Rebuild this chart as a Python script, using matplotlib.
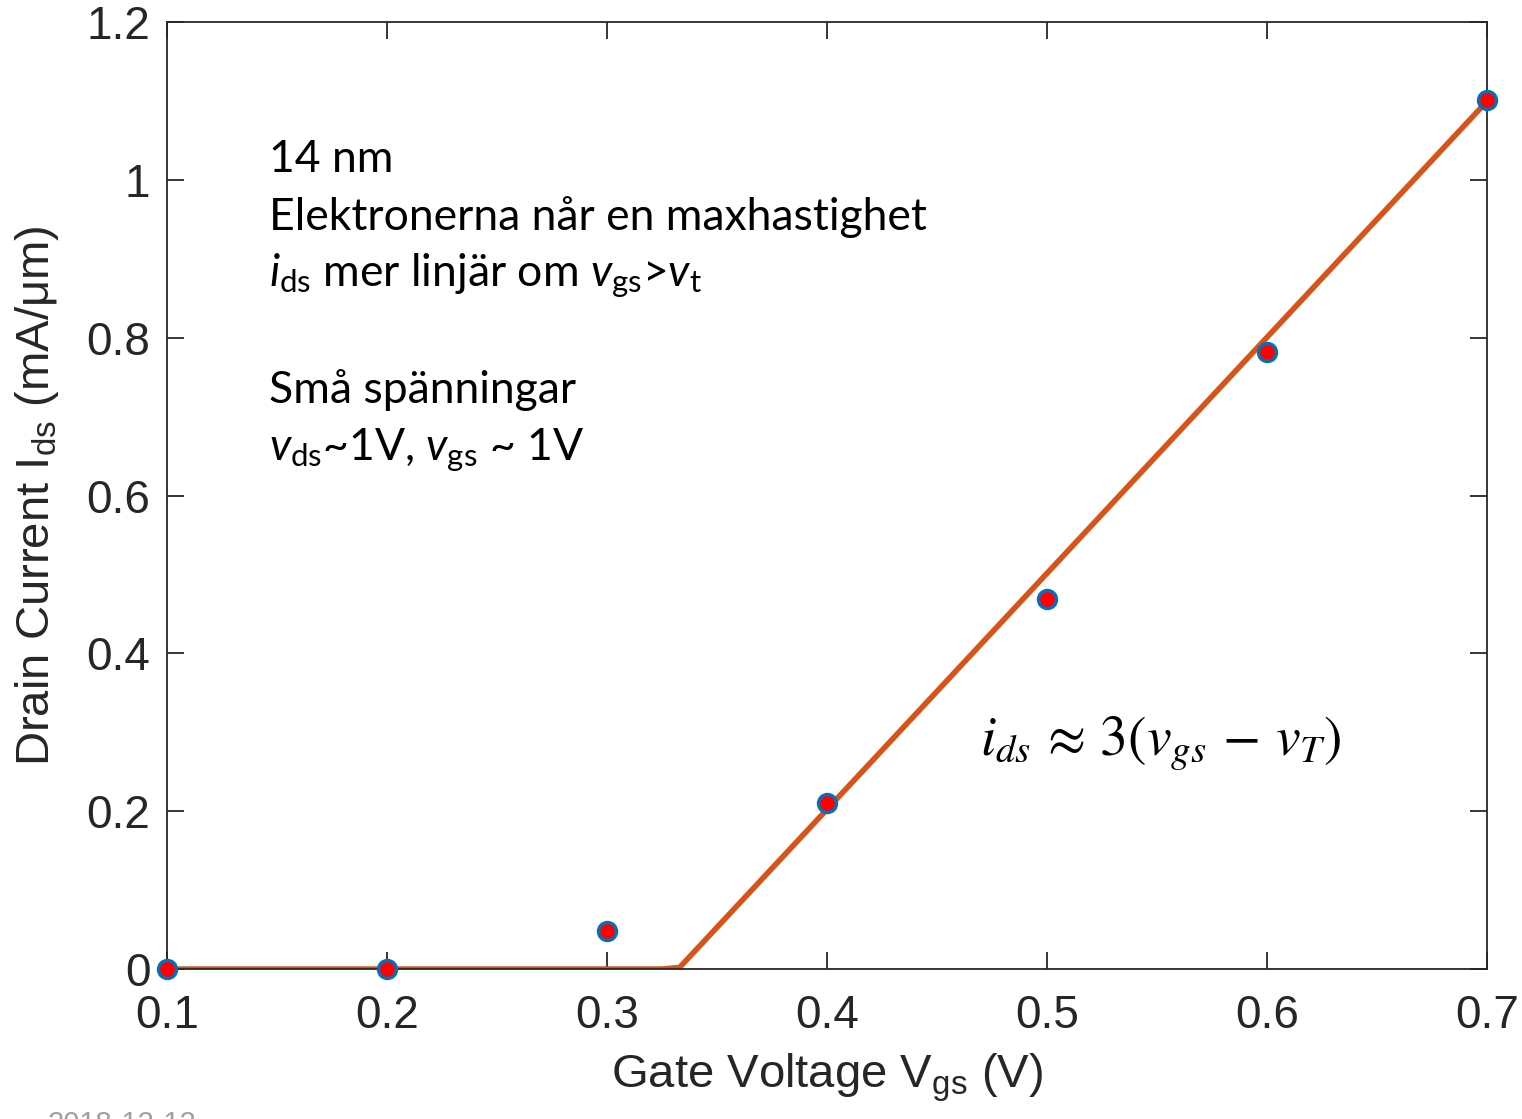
import matplotlib
matplotlib.use("Agg")
import matplotlib.pyplot as plt

# === Dados ===
vgs_pts = [0.1, 0.2, 0.3, 0.4, 0.5, 0.6, 0.7]
ids_pts = [0.0, 0.0, 0.048, 0.21, 0.469, 0.782, 1.101]

# modelo linear por partes: i_ds ~ 3(v_gs - v_T)
vgs_fit = [0.1, 0.325, 0.333, 0.7]
ids_fit = [0.0, 0.0, 0.002, 1.1]

x_ticks = [0.1, 0.2, 0.3, 0.4, 0.5, 0.6, 0.7]
y_ticks = [0, 0.2, 0.4, 0.6, 0.8, 1.0, 1.2]
y_ticklabels = ["0", "0.2", "0.4", "0.6", "0.8", "1", "1.2"]

plt.rcParams['font.family'] = ['Liberation Sans', 'DejaVu Sans']
plt.rcParams['mathtext.fontset'] = 'custom'
plt.rcParams['mathtext.rm'] = 'Lato'
plt.rcParams['mathtext.it'] = 'Lato:italic'

fig = plt.figure(figsize=(15.22, 11.19), dpi=100)
ax = fig.add_axes([0.1097, 0.134, 0.8673, 0.846])

ax.plot(vgs_fit, ids_fit, color='#D95319', lw=4, solid_joinstyle='round', zorder=2)
ax.plot(vgs_pts, ids_pts, 'o', ms=13, mfc='red', mec='#0072BD', mew=2.4,
        zorder=3, clip_on=False)

ax.set_xlim(0.1, 0.7)
ax.set_ylim(0, 1.2)
ax.set_xticks(x_ticks)
ax.set_xticklabels([f"{v:.1f}" for v in x_ticks])
ax.set_yticks(y_ticks)
ax.set_yticklabels(y_ticklabels)
ax.tick_params(direction='in', length=12, width=1.3, labelsize=33, colors='#262626',
               top=True, right=True)
ax.tick_params(axis='x', pad=18)
ax.tick_params(axis='y', pad=12)
for s in ax.spines.values():
    s.set_linewidth(1.3)
    s.set_color('#262626')

ax.set_xlabel(r'Gate Voltage V$_{\mathregular{gs}}$ (V)', fontsize=34, color='#262626', labelpad=10)
ax.set_ylabel(r'Drain Current I$_{\mathregular{ds}}$ (mA/μm)', fontsize=34, color='#262626', labelpad=18)

# === Textos de anotação ===
txt_kw = dict(transform=ax.transAxes, fontsize=32, family='Lato', va='baseline', ha='left')
ax.text(0.077, 0.842, '14 nm', **txt_kw)
ax.text(0.077, 0.781, 'Elektronerna når en maxhastighet', **txt_kw)
ax.text(0.077, 0.721, r'$\mathit{i}_{\mathrm{ds}}$ mer linjär om $\mathit{v}_{\mathrm{gs}}$>$\mathit{v}_{\mathrm{t}}$', **txt_kw)
ax.text(0.077, 0.598, 'Små spänningar', **txt_kw)
ax.text(0.077, 0.538, r'$\mathit{v}_{\mathrm{ds}}$~1V, $\mathit{v}_{\mathrm{gs}}$ ~ 1V', **txt_kw)

ax.text(0.4695, 0.271, r'$i_{ds}\,\approx\,3(v_{gs}\,-\,v_T)$', transform=ax.transData,
        fontsize=40, math_fontfamily='stix', va='baseline', ha='left')

fig.text(0.031, 0.008, '2018-12-12', fontsize=21, color='#a0a0a0', va='top')

fig.savefig("out.png", dpi=100)
